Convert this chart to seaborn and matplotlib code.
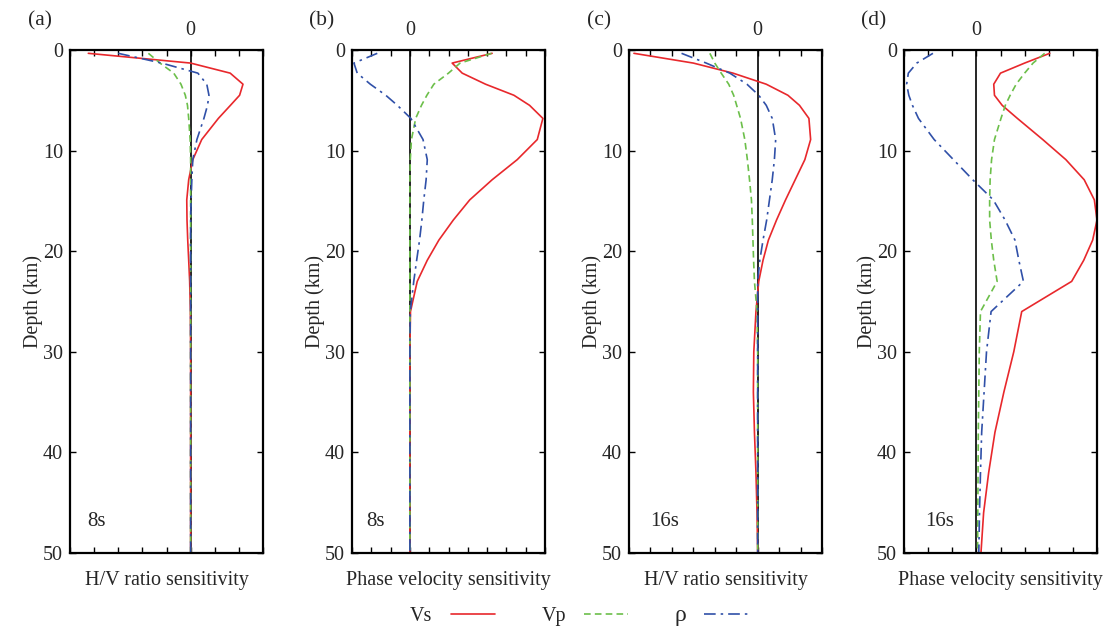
import matplotlib
matplotlib.use('Agg')
import matplotlib.pyplot as plt
import matplotlib.transforms as mtransforms
from matplotlib.lines import Line2D
import seaborn as sns

# depth samples (km) shared by all curves
depth = [0.33, 1.3, 2.3, 3.4, 4.5, 5.5, 6.8, 8.9, 10.9, 12.9, 14.9, 16.9,
         18.9, 20.9, 23, 26, 30, 34, 38, 42, 46, 50]

# (a) H/V ratio, 8s
vs_a = [-4.24, 0.0, 1.64, 2.17, 2.03, 1.65, 1.15, 0.46, 0.09, -0.08, -0.16, -0.15,
        -0.12, -0.08, -0.04, -0.01, 0, 0, 0, 0, 0, 0]
vp_a = [-1.75, -1.27, -0.7, -0.4, -0.22, -0.13, -0.08, -0.02, 0, 0, 0, 0,
        0, 0, 0, 0, 0, 0, 0, 0, 0, 0]
rho_a = [-3.0, -1.2, 0.3, 0.67, 0.76, 0.7, 0.55, 0.26, 0.09, 0.05, 0.02, 0,
         0, 0, 0, 0, 0, 0, 0, 0, 0, 0]

# (b) phase velocity, 8s
vs_b = [4.26, 2.19, 2.71, 3.92, 5.39, 6.2, 6.89, 6.6, 5.56, 4.26, 3.1, 2.25,
        1.5, 0.9, 0.38, 0.03, 0, 0, 0, 0, 0, 0]
vp_b = [4.23, 2.6, 2.0, 1.24, 0.88, 0.6, 0.3, 0.08, 0.02, 0, 0, 0,
        0, 0, 0, 0, 0, 0, 0, 0, 0, 0]
rho_b = [-1.69, -2.9, -2.73, -2.05, -1.25, -0.65, 0.05, 0.68, 0.9, 0.84, 0.72, 0.62,
         0.5, 0.35, 0.2, 0.02, 0, 0, 0, 0, 0, 0]

# (c) H/V ratio, 16s
vs_c = [-5.77, -3.0, -1.15, 0.4, 1.41, 1.95, 2.39, 2.47, 2.2, 1.75, 1.3, 0.88,
        0.5, 0.25, 0.05, -0.08, -0.18, -0.2, -0.15, -0.08, -0.03, 0]
vp_c = [-2.23, -2.0, -1.7, -1.35, -1.12, -0.98, -0.8, -0.6, -0.48, -0.38, -0.29, -0.25,
        -0.22, -0.19, -0.15, -0.03, 0, 0, 0, 0, 0, 0]
rho_c = [-3.55, -2.4, -1.3, -0.5, 0.05, 0.4, 0.68, 0.84, 0.78, 0.68, 0.55, 0.42,
         0.25, 0.1, 0.0, 0, 0, 0, 0, 0, 0, 0]

# (d) phase velocity, 16s
vs_d = [3.04, 2.0, 1.0, 0.72, 0.75, 1.07, 1.7, 2.75, 3.71, 4.47, 4.89, 5.0,
        4.82, 4.45, 3.95, 1.88, 1.55, 1.14, 0.77, 0.51, 0.3, 0.19]
vp_d = [2.83, 2.35, 2.0, 1.65, 1.4, 1.2, 1.02, 0.75, 0.63, 0.57, 0.55, 0.55,
        0.62, 0.72, 0.86, 0.17, 0.12, 0.1, 0.08, 0.07, 0.06, 0.05]
rho_d = [-1.8, -2.47, -2.82, -2.89, -2.8, -2.65, -2.4, -1.75, -0.95, -0.15, 0.7, 1.19,
         1.6, 1.76, 1.95, 0.61, 0.42, 0.32, 0.22, 0.17, 0.13, 0.1]

panel_tags = ['(a)', '(b)', '(c)', '(d)']
periods = ['8s', '8s', '16s', '16s']
xlabels = ['H/V ratio sensitivity', 'Phase velocity sensitivity',
           'H/V ratio sensitivity', 'Phase velocity sensitivity']
xlims = [(-5, 3), (-3, 7), (-6, 3), (-3, 5)]
curves = [(vs_a, vp_a, rho_a), (vs_b, vp_b, rho_b),
          (vs_c, vp_c, rho_c), (vs_d, vp_d, rho_d)]

red = '#e8282c'
green = '#6cbf4a'
blue = '#3050a8'
ls_vp = (0, (4, 2.5))
ls_rho = (0, (7, 3, 1.5, 3))

sns.set_theme(style='ticks')
plt.rcParams['font.family'] = ['Liberation Serif', 'DejaVu Serif']

fig = plt.figure(figsize=(11.1, 6.31), dpi=100)
lefts = [70, 352, 629, 904]
period_x = [0.135, 0.12, 0.185, 0.187]

for i in range(4):
    ax = fig.add_axes([lefts[i] / 1110, 78 / 631, 193 / 1110, 503 / 631])
    vs, vp, rho = curves[i]
    ax.axvline(0, color='black', lw=1.2, zorder=1)
    sns.lineplot(x=vs, y=depth, orient='y', sort=False, estimator=None,
                 color=red, lw=1.2, ax=ax)
    sns.lineplot(x=vp, y=depth, orient='y', sort=False, estimator=None,
                 color=green, lw=1.2, linestyle=ls_vp, ax=ax)
    sns.lineplot(x=rho, y=depth, orient='y', sort=False, estimator=None,
                 color=blue, lw=1.2, linestyle=ls_rho, ax=ax)

    ax.set_xlim(xlims[i])
    ax.set_ylim(50, 0)
    ax.set_xticks(range(xlims[i][0], xlims[i][1] + 1))
    ax.set_yticks([0, 10, 20, 30, 40, 50])
    ax.tick_params(direction='in', top=True, right=True, length=4, width=1,
                   labelbottom=False, labelsize=14.5, pad=5, color='black')
    for sp in ax.spines.values():
        sp.set_linewidth(1.6)
        sp.set_color('black')
    ax.set_xlabel(xlabels[i], fontsize=14.5, labelpad=13)
    ax.set_ylabel('Depth (km)', fontsize=14.5, labelpad=0)

    trans = mtransforms.blended_transform_factory(ax.transData, ax.transAxes)
    ax.text(0, 1.038, '0', transform=trans, ha='center', va='center', fontsize=14.5)
    ax.text(-0.155, 1.058, panel_tags[i], transform=ax.transAxes,
            ha='center', va='center', fontsize=15.5)
    ax.text(period_x[i], 0.062, periods[i], transform=ax.transAxes,
            ha='center', va='center', fontsize=15)

handles = [Line2D([], [], color=red, lw=1.2),
           Line2D([], [], color=green, lw=1.2, linestyle=ls_vp),
           Line2D([], [], color=blue, lw=1.2, linestyle=ls_rho)]
leg = fig.legend(handles, ['Vs', 'Vp', 'ρ'], loc='center', ncol=3,
                 bbox_to_anchor=(0.522, 0.025), frameon=False, markerfirst=False,
                 fontsize=14.5, handlelength=2.2, handletextpad=0.9, columnspacing=2.3)
leg.get_texts()[2].set_fontsize(17)

fig.savefig('out.png', dpi=100)
